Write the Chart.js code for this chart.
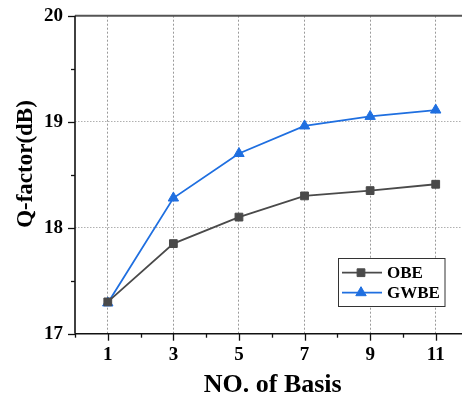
<!DOCTYPE html>
<html>
<head>
<meta charset="utf-8">
<script src="https://cdn.jsdelivr.net/npm/chart.js@4/dist/chart.umd.min.js"></script>
<style>
html,body{margin:0;padding:0;overflow:hidden;background:#fff;}
#wrap{position:relative;width:480px;height:406px;}
</style>
</head>
<body>
<div id="wrap"><canvas id="c" width="480" height="406"></canvas></div>
<script>
const basis = [1, 3, 5, 7, 9, 11];
const obe = [17.30, 17.85, 18.10, 18.30, 18.35, 18.41];
const gwbe = [17.29, 18.28, 18.70, 18.96, 19.05, 19.11];
const seriesNames = ['OBE', 'GWBE'];
const xTickLabels = ['1', '3', '5', '7', '9', '11'];
const yTickLabels = ['17', '18', '19', '20'];
const xTitle = 'NO. of Basis';
const yTitle = 'Q-factor(dB)';

const FONT = '"Liberation Serif", "Times New Roman", serif';
const colOBE = '#4a4a4a';
const colGW = '#1f6fe0';

function toXY(xs, ys){ return xs.map((x,i)=>({x:x, y:ys[i]})); }

const framePlugin = {
  id: 'frame',
  beforeDatasetsDraw(chart){
    const {ctx, chartArea:a, scales:{x, y}} = chart;
    ctx.save();
    ctx.lineCap = 'butt';
    ctx.strokeStyle = '#555';
    ctx.lineWidth = 2;
    ctx.beginPath(); ctx.moveTo(a.left, y.getPixelForValue(20)); ctx.lineTo(a.right + 20, y.getPixelForValue(20)); ctx.stroke();
    ctx.strokeStyle = '#111';
    ctx.lineWidth = 1.6;
    ctx.beginPath(); ctx.moveTo(x.getPixelForValue(0), a.top); ctx.lineTo(x.getPixelForValue(0), a.bottom); ctx.stroke();
    ctx.beginPath(); ctx.moveTo(a.left, a.bottom); ctx.lineTo(a.right + 20, a.bottom); ctx.stroke();
    ctx.lineWidth = 1.3;
    for (let v = 0; v <= 12; v++){
      const px = Math.round(x.getPixelForValue(v)) + 0.5;
      const len = (v % 2 === 1) ? 7 : 4;
      ctx.beginPath(); ctx.moveTo(px, a.bottom); ctx.lineTo(px, a.bottom + len); ctx.stroke();
    }
    for (let v = 17; v <= 20.001; v += 0.5){
      const py = Math.round(y.getPixelForValue(v)) + 0.5;
      const len = (Math.abs(v - Math.round(v)) < 1e-6) ? 7 : 4;
      ctx.beginPath(); ctx.moveTo(a.left - len, py); ctx.lineTo(a.left, py); ctx.stroke();
    }
    ctx.restore();
  },
  afterDraw(chart){
    const {ctx} = chart;
    ctx.save();
    ctx.fillStyle = '#000';
    ctx.font = 'bold 26px ' + FONT;
    ctx.textAlign = 'center';
    ctx.textBaseline = 'alphabetic';
    ctx.fillText(xTitle, 272.7, 392);
    ctx.translate(26, 164);
    ctx.rotate(-Math.PI/2);
    ctx.font = 'bold 23px ' + FONT;
    ctx.textBaseline = 'middle';
    ctx.fillText(yTitle, 0, 0);
    ctx.restore();

    ctx.save();
    const bx = 338.5, by = 258.5, bw = 106.5, bh = 48;
    ctx.fillStyle = '#fff';
    ctx.fillRect(bx, by, bw, bh);
    ctx.strokeStyle = '#333';
    ctx.lineWidth = 1;
    ctx.strokeRect(bx, by, bw, bh);
    const items = chart.data.datasets;
    const rows = [272.7, 292.7];
    items.forEach((ds, i) => {
      const yy = rows[i];
      ctx.strokeStyle = ds.borderColor;
      ctx.lineWidth = ds.borderWidth;
      ctx.beginPath(); ctx.moveTo(342, yy); ctx.lineTo(382, yy); ctx.stroke();
      ctx.fillStyle = ds.pointBackgroundColor;
      ctx.strokeStyle = ds.pointBorderColor;
      ctx.lineWidth = 1;
      Chart.helpers.drawPoint(ctx, {pointStyle: ds.pointStyle, radius: ds.pointRadius, borderWidth: 1, rotation: 0}, 361, yy);
      ctx.fillStyle = '#000';
      ctx.font = 'bold 17px ' + FONT;
      ctx.textAlign = 'left';
      ctx.textBaseline = 'middle';
      ctx.fillText(ds.label, 387, yy + 1);
    });
    ctx.restore();
  }
};

new Chart(document.getElementById('c'), {
  type: 'line',
  data: {
    datasets: [
      { label: seriesNames[0], data: toXY(basis, obe), borderColor: colOBE, backgroundColor: colOBE,
        pointBackgroundColor: colOBE, pointBorderColor: colOBE, pointStyle: 'rect', pointRadius: 5.5,
        pointBorderWidth: 1, borderWidth: 1.8, tension: 0 },
      { label: seriesNames[1], data: toXY(basis, gwbe), borderColor: colGW, backgroundColor: colGW,
        pointBackgroundColor: colGW, pointBorderColor: colGW, pointStyle: 'triangle', pointRadius: 6,
        pointBorderWidth: 1, borderWidth: 1.8, tension: 0 }
    ]
  },
  options: {
    responsive: false,
    animation: false,
    layout: { padding: { left: 0, right: 11.5, top: 15.7, bottom: 0 } },
    plugins: { legend: { display: false }, tooltip: { enabled: false } },
    scales: {
      x: {
        type: 'linear', min: 0, max: 12,
        afterFit(s){ s.height = 406 - 333.7; s.paddingLeft = 0; s.paddingRight = 0; },
        ticks: {
          stepSize: 1, autoSkip: false, maxRotation: 0, padding: 10,
          color: '#000', font: { family: FONT, size: 19, weight: 'bold' },
          callback(v){ const i = basis.indexOf(v); return i >= 0 ? xTickLabels[i] : ''; }
        },
        grid: {
          drawTicks: false,
          color(c){ return (c.tick && c.tick.value % 2 === 1) ? '#9a9a9a' : 'rgba(0,0,0,0)'; },
          lineWidth: 1
        },
        border: { display: false, dash: [2, 2] }
      },
      y: {
        type: 'linear', min: 17, max: 20,
        afterFit(s){ s.width = 75; s.paddingTop = 0; s.paddingBottom = 0; },
        ticks: {
          stepSize: 0.5, autoSkip: false, padding: 12,
          color: '#000', font: { family: FONT, size: 19, weight: 'bold' },
          callback(v){ const i = yTickLabels.indexOf(String(v)); return i >= 0 ? yTickLabels[i] : ''; }
        },
        grid: {
          drawTicks: false,
          color(c){ const v = c.tick ? c.tick.value : 0; return (v === 18 || v === 19) ? '#b0b0b0' : 'rgba(0,0,0,0)'; },
          lineWidth: 1
        },
        border: { display: false, dash: [1.5, 1.5] }
      }
    }
  },
  plugins: [framePlugin]
});
</script>
</body>
</html>
